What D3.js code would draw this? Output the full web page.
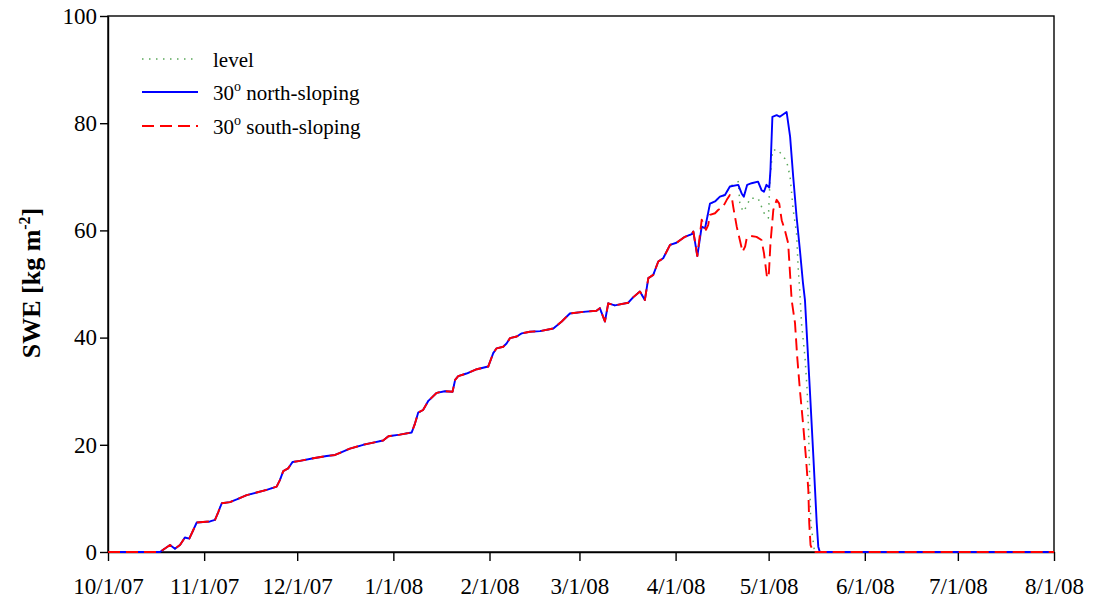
<!DOCTYPE html>
<html>
<head>
<meta charset="utf-8">
<script src="https://cdn.jsdelivr.net/npm/d3@7"></script>
<style>
  body { margin: 0; background: #fff; }
  text { font-family: "Liberation Serif", "Times New Roman", serif; fill: #000; }
</style>
</head>
<body>
<svg id="chart" width="1093" height="603"></svg>
<script>
// Axis ticks
const tickDates  = ["2007-10-01T00","2007-11-01T00","2007-12-01T00","2008-01-01T00","2008-02-01T00","2008-03-01T00","2008-04-01T00","2008-05-01T00","2008-06-01T00","2008-07-01T00","2008-08-01T00"];
const tickLabels = ["10/1/07","11/1/07","12/1/07","1/1/08","2/1/08","3/1/08","4/1/08","5/1/08","6/1/08","7/1/08","8/1/08"];
const yTicks     = [0, 20, 40, 60, 80, 100];

// Accumulation season, common to all three sites (SWE, kg m-2)
const seasonDates = ["2007-10-01T00","2007-10-17T18","2007-10-21T00","2007-10-22T14","2007-10-24T05","2007-10-25T19","2007-10-27T05","2007-10-28T12","2007-10-29T14","2007-11-02T21","2007-11-04T12","2007-11-05T14","2007-11-06T16","2007-11-09T08","2007-11-11T12","2007-11-14T17","2007-11-17T22","2007-11-21T04","2007-11-24T09","2007-11-25T10","2007-11-26T12","2007-11-28T02","2007-11-29T12","2007-12-01T22","2007-12-06T05","2007-12-10T12","2007-12-13T05","2007-12-14T19","2007-12-18T00","2007-12-22T07","2007-12-25T12","2007-12-28T17","2007-12-30T10","2008-01-03T02","2008-01-06T22","2008-01-08T00","2008-01-09T00","2008-01-10T14","2008-01-12T07","2008-01-15T00","2008-01-17T14","2008-01-20T02","2008-01-20T22","2008-01-21T22","2008-01-24T14","2008-01-27T22","2008-01-31T14","2008-02-02T05","2008-02-03T07","2008-02-05T10","2008-02-06T12","2008-02-07T14","2008-02-09T19","2008-02-11T10","2008-02-14T00","2008-02-17T07","2008-02-21T14","2008-02-24T07","2008-02-26T22","2008-03-02T05","2008-03-06T12","2008-03-07T14","2008-03-09T05","2008-03-10T07","2008-03-12T10","2008-03-16T17","2008-03-18T07","2008-03-20T12","2008-03-22T02","2008-03-23T05","2008-03-24T19","2008-03-26T10","2008-03-28T00","2008-03-30T05","2008-04-01T07","2008-04-04T00","2008-04-06T05","2008-04-06T17","2008-04-08T00"];
const seasonSwe   = [0, 0, 1.3, 0.6, 1.3, 2.7, 2.5, 4.1, 5.5, 5.7, 6.0, 7.5, 9.1, 9.3, 9.8, 10.6, 11.1, 11.6, 12.2, 13.4, 15.1, 15.6, 16.8, 17.0, 17.5, 17.9, 18.1, 18.5, 19.3, 20.0, 20.4, 20.8, 21.6, 21.9, 22.3, 24.0, 26.0, 26.5, 28.2, 29.7, 30.0, 29.9, 32.1, 32.8, 33.3, 34.1, 34.6, 37.1, 38.0, 38.3, 38.9, 39.9, 40.2, 40.8, 41.1, 41.2, 41.7, 43.0, 44.5, 44.8, 45.0, 45.5, 43.0, 46.4, 46.0, 46.5, 47.5, 48.6, 47.0, 51.1, 51.7, 54.2, 54.8, 57.3, 57.7, 58.8, 59.3, 59.8, 55.2];

// Spring and melt, per site
const northDates = ["2008-04-09T10","2008-04-10T12","2008-04-12T02","2008-04-13T17","2008-04-15T07","2008-04-16T22","2008-04-18T12","2008-04-21T05","2008-04-22T07","2008-04-23T00","2008-04-24T02","2008-04-25T12","2008-04-27T14","2008-04-28T17","2008-04-29T12","2008-04-30T07","2008-05-01T05","2008-05-01T14","2008-05-02T05","2008-05-03T14","2008-05-04T14","2008-05-06T19","2008-05-07T22","2008-05-08T22","2008-05-10T00","2008-05-11T02","2008-05-12T02","2008-05-12T17","2008-05-14T07","2008-05-15T10","2008-05-16T12","2008-05-17T00","2008-05-17T12","2008-08-01T00"];
const northSwe   = [60.7, 60.4, 65.0, 65.4, 66.3, 66.6, 68.2, 68.5, 66.9, 66.3, 68.5, 68.8, 69.1, 67.5, 67.2, 68.5, 68.0, 71.3, 81.2, 81.5, 81.2, 82.1, 77.5, 70.0, 62.6, 56.3, 50.1, 47.0, 30.2, 17.8, 5.4, 1.0, 0, 0];

const levelDates = ["2008-04-09T10","2008-04-10T12","2008-04-12T02","2008-04-13T17","2008-04-15T07","2008-04-16T22","2008-04-18T12","2008-04-21T05","2008-04-21T17","2008-04-22T19","2008-04-23T22","2008-04-25T00","2008-04-27T14","2008-04-28T17","2008-04-29T19","2008-04-30T22","2008-05-01T10","2008-05-02T07","2008-05-04T02","2008-05-05T05","2008-05-06T05","2008-05-07T02","2008-05-07T22","2008-05-08T10","2008-05-08T22","2008-05-10T00","2008-05-10T12","2008-05-11T02","2008-05-11T14","2008-05-12T17","2008-05-13T10","2008-05-13T19","2008-05-14T02","2008-05-14T07","2008-05-14T14","2008-05-15T17","2008-05-16T06","2008-08-01T00"];
const levelSwe   = [60.7, 60.4, 65.0, 65.4, 66.3, 66.6, 68.2, 69.1, 65.0, 63.5, 64.5, 66.0, 66.0, 64.4, 62.9, 62.3, 69.4, 75.0, 75.0, 74.1, 73.4, 72.2, 70.0, 66.9, 63.8, 59.5, 53.2, 48.3, 42.7, 36.4, 30.2, 24.0, 17.8, 11.6, 5.4, 0.4, 0, 0];

const southDates = ["2008-04-09T10","2008-04-10T19","2008-04-11T12","2008-04-12T02","2008-04-13T17","2008-04-14T17","2008-04-16T07","2008-04-17T12","2008-04-18T12","2008-04-19T02","2008-04-19T14","2008-04-20T17","2008-04-21T17","2008-04-22T14","2008-04-23T10","2008-04-23T22","2008-04-25T00","2008-04-27T02","2008-04-28T17","2008-04-29T12","2008-04-30T12","2008-05-01T02","2008-05-01T14","2008-05-02T12","2008-05-03T14","2008-05-04T10","2008-05-05T05","2008-05-06T05","2008-05-07T07","2008-05-08T10","2008-05-09T12","2008-05-10T05","2008-05-11T02","2008-05-12T02","2008-05-13T00","2008-05-13T19","2008-05-14T02","2008-05-14T12","2008-05-15T10","2008-08-01T00"];
const southSwe   = [62.0, 60.1, 61.0, 62.9, 63.2, 63.8, 64.4, 65.7, 66.6, 66.3, 64.4, 60.7, 58.2, 56.0, 57.0, 58.5, 59.0, 58.8, 58.2, 55.7, 51.1, 52.0, 57.6, 63.8, 65.7, 65.0, 61.9, 60.1, 57.6, 47.0, 42.7, 36.4, 30.2, 24.0, 17.8, 11.6, 5.4, 1.3, 0, 0];

const seriesNames  = ["level", "30° north-sloping", "30° south-sloping"];

const parse = d3.utcParse("%Y-%m-%dT%H");
const toPoints = (dates, values) => dates.map((d, i) => ({ date: parse(d), swe: values[i] }));
const season = toPoints(seasonDates, seasonSwe);

const series = [
  { name: seriesNames[0], points: season.concat(toPoints(levelDates, levelSwe)), color: "#5aa85a", width: 1.5, dash: "1.5,5.5" },
  { name: seriesNames[1], points: season.concat(toPoints(northDates, northSwe)), color: "#0000ff", width: 1.9, dash: null },
  { name: seriesNames[2], points: season.concat(toPoints(southDates, southSwe)), color: "#ff0000", width: 1.9, dash: "12,6" }
];

const svg = d3.select("#chart");
const plot = { left: 108, right: 1054, top: 16, bottom: 552 };

const x = d3.scaleUtc()
  .domain([parse(tickDates[0]), parse(tickDates[tickDates.length - 1])])
  .range([plot.left, plot.right]);
const y = d3.scaleLinear().domain([0, 100]).range([plot.bottom, plot.top]);

// Frame
svg.append("rect")
  .attr("x", plot.left).attr("y", plot.top)
  .attr("width", plot.right - plot.left).attr("height", plot.bottom - plot.top)
  .attr("fill", "none").attr("stroke", "#000").attr("stroke-width", 1.4);

// Axes
const xAxis = svg.append("g")
  .attr("transform", `translate(0,${plot.bottom})`)
  .call(d3.axisBottom(x)
    .tickValues(tickDates.map(parse))
    .tickFormat((d, i) => tickLabels[i])
    .tickSize(9).tickSizeOuter(0).tickPadding(17));
xAxis.select(".domain").attr("stroke-width", 1.4);
xAxis.selectAll(".tick line").attr("stroke-width", 1.4);
xAxis.selectAll("text").attr("font-size", 23).attr("font-family", "Liberation Serif");

const yAxis = svg.append("g")
  .attr("transform", `translate(${plot.left},0)`)
  .call(d3.axisLeft(y).tickValues(yTicks).tickSize(8).tickSizeOuter(0).tickPadding(3));
yAxis.select(".domain").attr("stroke-width", 1.4);
yAxis.selectAll(".tick line").attr("stroke-width", 1.4);
yAxis.selectAll("text").attr("font-size", 23).attr("font-family", "Liberation Serif");

// Y axis title
const title = svg.append("text")
  .attr("transform", "translate(40,283) rotate(-90)")
  .attr("text-anchor", "middle")
  .attr("font-size", 26)
  .attr("font-weight", "bold");
title.append("tspan").text("SWE [kg m");
title.append("tspan").attr("dy", -10).attr("font-size", 16).text("-2");
title.append("tspan").attr("dy", 10).text("]");

// Lines
const line = d3.line().x(d => x(d.date)).y(d => y(d.swe));
series.forEach(s => {
  svg.append("path")
    .datum(s.points)
    .attr("d", line)
    .attr("fill", "none")
    .attr("stroke", s.color)
    .attr("stroke-width", s.width)
    .attr("stroke-dasharray", s.dash)
    .attr("stroke-linejoin", "round");
});

// Legend
const legendY = [59, 92, 126];
series.forEach((s, i) => {
  const g = svg.append("g").attr("transform", `translate(0,${legendY[i]})`);
  g.append("line")
    .attr("x1", 142).attr("x2", 198).attr("y1", 0).attr("y2", 0)
    .attr("stroke", s.color).attr("stroke-width", s.width)
    .attr("stroke-dasharray", s.dash);
  const t = g.append("text").attr("x", 213).attr("y", 8).attr("font-size", 21);
  if (i === 0) {
    t.text(s.name);
  } else {
    const parts = s.name.split("°");
    t.append("tspan").text(parts[0]);
    t.append("tspan").attr("dy", -9).attr("font-size", 14).text("o");
    t.append("tspan").attr("dy", 9).text(parts[1]);
  }
});
</script>
</body>
</html>
